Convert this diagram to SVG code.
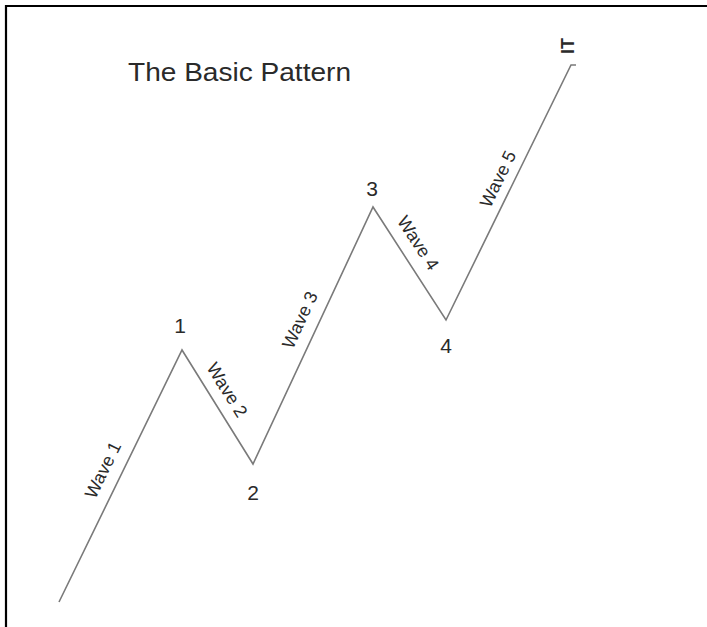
<svg xmlns="http://www.w3.org/2000/svg" width="707" height="627" viewBox="0 0 707 627">
<style>
.lbl{font-family:"Liberation Sans",Arial,sans-serif;fill:#2a2a2a;}
.num{font-size:21px;text-anchor:middle;}
.wave{font-size:18px;text-anchor:middle;}
.wline{fill:none;stroke:#7a7a7a;stroke-width:1.6;stroke-linejoin:miter;}
</style>
<rect width="707" height="627" fill="#fff"/>
<path d="M6,627 V6 H707" fill="none" stroke="#000" stroke-width="2.2"/>
<text id="title" class="lbl" x="128" y="81" font-size="25" textLength="223" lengthAdjust="spacingAndGlyphs">The Basic Pattern</text>
<g id="connectors">
<polyline class="wline" points="59,602 182,350 253,464 373,207 446,320 571,65 576,65"/>
</g>
<g id="label-1"><text class="lbl num" x="180" y="333">1</text></g>
<g id="label-2"><text class="lbl num" x="253" y="500">2</text></g>
<g id="label-3"><text class="lbl num" x="372" y="196">3</text></g>
<g id="label-4"><text class="lbl num" x="446" y="353">4</text></g>
<g id="label-top"><text class="lbl" transform="translate(574,46) rotate(-90)" font-size="18" font-weight="bold" text-anchor="middle">IT</text></g>
<g id="wave-1"><text class="lbl wave" transform="translate(103,470) rotate(-64)" y="6">Wave 1</text></g>
<g id="wave-2"><text class="lbl wave" transform="translate(227,390) rotate(58)" y="6">Wave 2</text></g>
<g id="wave-3"><text class="lbl wave" transform="translate(300,320) rotate(-65)" y="6">Wave 3</text></g>
<g id="wave-4"><text class="lbl wave" transform="translate(418,243) rotate(57)" y="6">Wave 4</text></g>
<g id="wave-5"><text class="lbl wave" transform="translate(498,179) rotate(-64)" y="6">Wave 5</text></g>
</svg>
